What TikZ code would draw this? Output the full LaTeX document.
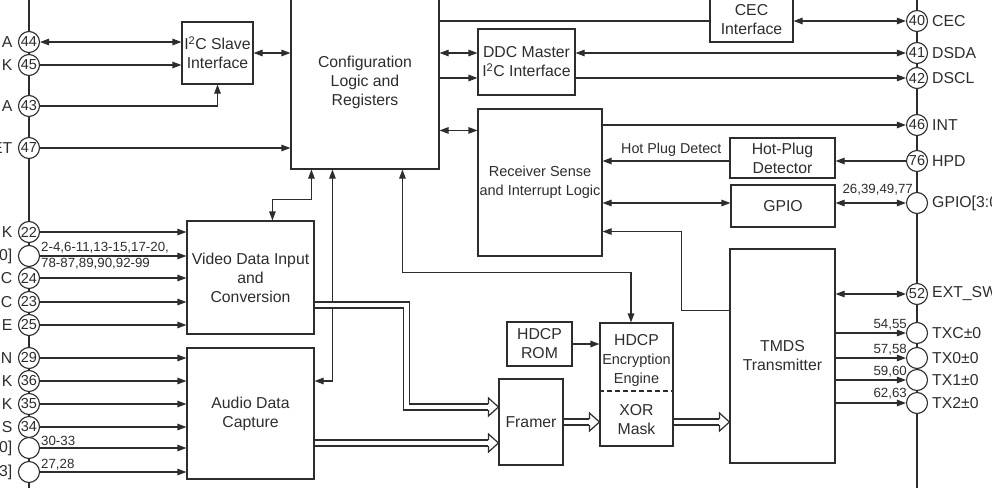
\documentclass[tikz,border=0pt]{standalone}
\usepackage{fontspec}
\setmainfont{Liberation Sans}
\usetikzlibrary{arrows.meta,calc}
\definecolor{ink}{RGB}{45,45,45}
\newcommand\widehead[1]{\draw[draw=ink, line width=1.2pt, line join=miter] ($(#1)+(-10,-3)$) -- ++(0,-6) -- (#1) -- ($(#1)+(-10,9)$) -- ++(0,-6);}
\begin{document}
\begin{tikzpicture}[x=1pt,y=-1pt,
  every node/.style={text=ink},
  box/.style={draw=ink, line width=1.1pt, inner sep=0pt, align=center, font=\fontsize{15.8}{19}\selectfont},
  pin/.style={circle, draw=ink, fill=white, line width=1.1pt, minimum size=21pt, inner sep=0pt, font=\fontsize{14.5}{15}\selectfont},
  lbl/.style={inner sep=0pt, align=center, font=\fontsize{15.8}{19}\selectfont},
  num/.style={inner sep=0pt, align=left, font=\fontsize{13.3}{16}\selectfont},
  conn/.style={draw=ink, line width=1.1pt},
  arr/.style={conn, -{Triangle[length=9pt,width=6.5pt]}},
  darr/.style={conn, {Triangle[length=9pt,width=6.5pt]}-{Triangle[length=9pt,width=6.5pt]}},
  wide/.style={draw=ink, line width=1.2pt, double=white, double distance=4.8pt, shorten >=10pt},
]
\useasboundingbox (0,0) rectangle (992,487);
\clip (0,0) rectangle (992,487);

% pin bus lines
\coordinate (lt) at (29,-5);
\coordinate (lb) at (29,492);
\coordinate (rt) at (917,-5);
\coordinate (rb) at (917,492);
\draw[conn] (lt) -- (lb);
\draw[conn] (rt) -- (rb);

% blocks
\node[box, minimum width=71pt, minimum height=62pt] (i2cs) at (217.5,53) {I\textsuperscript{2}C Slave\\Interface};
\node[box, minimum width=148pt, minimum height=174pt] (config) at (365,82) {Configuration\\Logic and\\Registers};
\node[box, minimum width=83pt, minimum height=44pt] (cec) at (751.5,20) {CEC\\Interface};
\node[box, minimum width=97pt, minimum height=66pt] (ddc) at (526.5,62) {DDC Master\\I\textsuperscript{2}C Interface};
\node[box, minimum width=124pt, minimum height=147pt, font=\fontsize{14.5}{19}\selectfont] (recv) at (540,182.5) {Receiver Sense\\and Interrupt Logic};
\node[box, minimum width=105pt, minimum height=40pt] (hpdet) at (782.5,158) {Hot-Plug\\Detector};
\node[box, minimum width=104pt, minimum height=42pt] (gpio) at (783,206) {GPIO};
\node[box, minimum width=105pt, minimum height=214pt] (tmds) at (782.5,356) {TMDS\\Transmitter};
\node[box, minimum width=127pt, minimum height=113pt] (video) at (250.5,277.5) {Video Data Input\\and\\Conversion};
\node[box, minimum width=127pt, minimum height=131pt] (audio) at (250.5,413.5) {Audio Data\\Capture};
\node[box, minimum width=64pt, minimum height=86pt] (framer) at (531,422) {Framer};
\node[box, minimum width=65pt, minimum height=44pt] (rom) at (539.5,344) {HDCP\\ROM};
\node[box, minimum width=73pt, minimum height=123pt] (hdcp) at (636.5,384.5) {};
\node[lbl] (enct) at (636.5,360) {HDCP\\{\fontsize{14.5}{19}\selectfont Encryption}\\{\fontsize{14.5}{19}\selectfont Engine}};
\node[lbl] (xort) at (636.5,419.5) {XOR\\Mask};
\draw[conn, dash pattern=on 5pt off 3pt] ([yshift=-6.5pt]hdcp.west) -- ([yshift=-6.5pt]hdcp.east);

% left pins
\foreach \n/\y/\l in {44/42/A, 45/65/K, 43/106/A, 47/148/ET, 22/232/K, 24/278/C, 23/302/C, 25/325/E, 29/358/N, 36/381/K, 35/404/K, 34/427/S}{
  \node[pin] (p\n) at (29,\y) {\n};
  \node[lbl, anchor=east] (l\n) at (12.5,\y) {\l};
}
\foreach \n/\y/\l in {v/256/0{]}, a/448/0{]}, b/472/3{]}}{
  \node[pin] (p\n) at (29,\y) {};
  \node[lbl, anchor=east] (l\n) at (12.5,\y) {\l};
}

% right pins
\foreach \n/\y/\l in {40/21/CEC, 41/53/DSDA, 42/78/DSCL, 46/125/INT, 76/161/HPD, 52/294/EXT\_SW}{
  \node[pin] (p\n) at (917,\y) {\n};
  \node[lbl, anchor=west] (l\n) at (932,\y) {\l};
}
\foreach \n/\y/\l in {g/203/{GPIO[3:0]}, tc/333/TXC±0, t0/358/TX0±0, t1/380/TX1±0, t2/403/TX2±0}{
  \node[pin] (p\n) at (917,\y) {};
  \node[lbl, anchor=west] (l\n) at (932,\y) {\l};
}

% pin-number labels
\node[num, anchor=west] (nv) at (41,256) {2-4,6-11,13-15,17-20,\\78-87,89,90,92-99};
\node[num, anchor=south west] (na) at (41,446) {30-33};
\node[num, anchor=south west] (nb) at (41,470) {27,28};
\node[num, anchor=south east] (ng) at (913,195) {26,39,49,77};
\node[num, anchor=south east] (ntc) at (907,330) {54,55};
\node[num, anchor=south east] (nt0) at (907,355) {57,58};
\node[num, anchor=south east] (nt1) at (907,377) {59,60};
\node[num, anchor=south east] (nt2) at (907,399) {62,63};
\node[inner sep=0pt, anchor=south west, font=\fontsize{14.3}{16}\selectfont] (nh) at (621,157) {Hot Plug Detect};

% left connections
\draw[darr] (p44) -- (i2cs.west |- p44);
\draw[arr] (p45) -- (i2cs.west |- p45);
\draw[arr] (p43) -| (i2cs.south);
\draw[arr] (p47) -- (config.west |- p47);
\draw[darr] (i2cs.east) -- (config.west |- i2cs.east);
\foreach \n in {22,v,24,23,25} \draw[arr] (p\n) -- (video.west |- p\n);
\foreach \n in {29,36,35,34,a,b} \draw[arr] (p\n) -- (audio.west |- p\n);

% config bottom links
\draw[darr] ([xshift=21pt]config.south west) -- ++(0,30) -| ([xshift=86pt]video.north west);
\draw[darr] ([xshift=42pt]config.south west) |- ([yshift=32.5pt]audio.east);
\draw[darr] ([xshift=112pt]config.south west) -- ++(0,103) -| ([xshift=-5.5pt]hdcp.north);

% right side links
\draw[conn] (config.east |- p40) -- (cec.west |- p40);
\draw[darr] (cec.east |- p40) -- (p40);
\draw[darr] (config.east |- p41) -- (ddc.west |- p41);
\draw[arr] (config.east |- p42) -- (ddc.west |- p42);
\draw[darr] (ddc.east |- p41) -- (p41);
\draw[arr] (ddc.east |- p42) -- (p42);
\coordinate (rc) at ([yshift=-22pt]recv.north west);
\draw[darr] (config.east |- rc) -- (rc);
\draw[arr] (recv.east |- p46) -- (p46);
\draw[arr] (p76) -- (hpdet.east |- p76);
\draw[arr] (hpdet.west |- p76) -- (recv.east |- p76);
\draw[darr] (recv.east |- pg) -- (gpio.west |- pg);
\draw[darr] (gpio.east |- pg) -- (pg);
\draw[arr] ([yshift=-62pt]tmds.north west) -- ++(-48,0) |- ([yshift=25pt]recv.south east);
\draw[darr] (tmds.east |- p52) -- (p52);
\foreach \n in {tc,t0,t1,t2} \draw[arr] (tmds.east |- p\n) -- (p\n);
\draw[arr] (rom.east) -- (hdcp.west |- rom.east);

% wide data paths (hollow heads)
\coordinate (h1) at ([yshift=15pt]framer.west);
\coordinate (h2) at ([yshift=-21pt]framer.west);
\coordinate (h3) at (hdcp.west |- framer.east);
\coordinate (h4) at (tmds.west |- framer.east);
\draw[wide] ([yshift=-27.5pt]video.east) -- ++(92,0) |- (h1);
\draw[wide] (audio.east |- h2) -- (h2);
\draw[wide] (framer.east) -- (h3);
\draw[wide] (hdcp.east |- h4) -- (h4);
\widehead{h1}
\widehead{h2}
\widehead{h3}
\widehead{h4}
\end{tikzpicture}
\end{document}
